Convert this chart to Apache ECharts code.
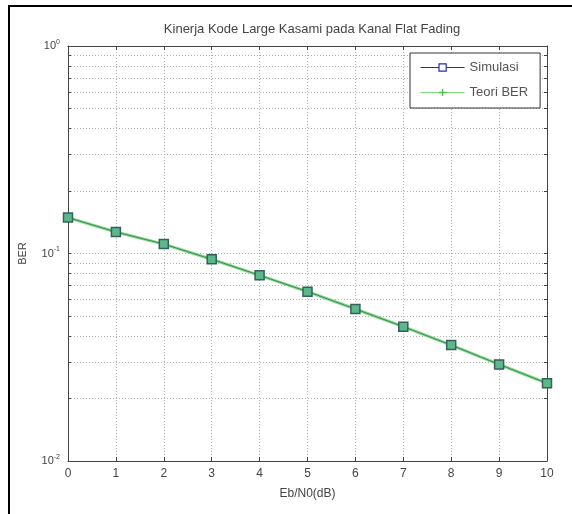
<!DOCTYPE html>
<html><head><meta charset="utf-8">
<script src="https://cdn.jsdelivr.net/npm/echarts@6/dist/echarts.min.js"></script>
<style>html,body{margin:0;padding:0;background:#fff}#c{width:572px;height:514px}</style>
</head><body><div id="c"></div>
<script>
var ebno = [0,1,2,3,4,5,6,7,8,9,10];
var simulasi = [0.149,0.127,0.111,0.0938,0.0785,0.0655,0.0540,0.0444,0.0362,0.0292,0.0237];
var teori    = [0.149,0.127,0.111,0.0938,0.0785,0.0655,0.0540,0.0444,0.0362,0.0292,0.0237];
var xTicks = [0,1,2,3,4,5,6,7,8,9,10];
var yMajor = [0.01,0.1,1];
var yTicks = [0.01,0.02,0.03,0.04,0.05,0.06,0.07,0.08,0.09,0.1,0.2,0.3,0.4,0.5,0.6,0.7,0.8,0.9,1];
var yLabelExp = {'0.01':'-2','0.1':'-1','1':'0'};

var font = 'Liberation Sans';
var chart = echarts.init(document.getElementById('c'));
var gridCol = '#b0b0b0';
function pairs(v){ return ebno.map(function(x,i){return [x,v[i]];}); }
var plus = 'path://M4,0h2v4h4v2h-4v4h-2v-4h-4v-2h4z';

chart.setOption({
  animation:false,
  backgroundColor:'#fff',
  textStyle:{fontFamily:font},
  title:{text:'Kinerja Kode Large Kasami pada Kanal Flat Fading',left:307,top:18,textAlign:'center',
    textStyle:{fontFamily:font,fontSize:13,fontWeight:'normal',color:'#444'}},
  graphic:[
    {type:'line',shape:{x1:8,y1:6,x2:572,y2:6},style:{stroke:'#000',lineWidth:2},silent:true},
    {type:'line',shape:{x1:9,y1:5,x2:9,y2:514},style:{stroke:'#000',lineWidth:2},silent:true}
  ],
  grid:{left:68,right:25,top:46,bottom:53,show:false},
  legend:{
    orient:'vertical',left:410,top:53,
    backgroundColor:'#fff',borderColor:'#333',borderWidth:1,
    padding:[8,12,9,10],itemGap:12,itemWidth:44,itemHeight:9,
    textStyle:{fontFamily:font,fontSize:13,color:'#555'},
    data:[
      {name:'Simulasi',itemStyle:{color:'#fff',borderColor:'#2a2ab8',borderWidth:1.2},lineStyle:{color:'#2a2ab8',width:1}},
      {name:'Teori BER',itemStyle:{color:'#4cc44c',borderWidth:0},lineStyle:{color:'#7ad87a',width:1.2}}
    ]
  },
  xAxis:[
    {type:'value',min:0,max:10,interval:1,position:'bottom',
     name:'Eb/N0(dB)',nameLocation:'middle',nameGap:27,
     nameTextStyle:{fontFamily:font,fontSize:12,color:'#444'},
     axisLine:{show:true,lineStyle:{color:'#444',width:1}},
     axisTick:{show:true,inside:true,length:4,lineStyle:{color:'#444'}},
     axisLabel:{fontFamily:font,fontSize:12,color:'#444',margin:7,customValues:xTicks},
     splitLine:{show:true,lineStyle:{color:gridCol,type:[1,2],width:1}}},
    {type:'value',min:0,max:10,interval:1,position:'top',
     axisLine:{show:true,onZero:false,lineStyle:{color:'#444',width:1}},
     axisTick:{show:true,inside:true,length:4,lineStyle:{color:'#444'}},
     axisLabel:{show:false},splitLine:{show:false}}
  ],
  yAxis:[
    {type:'log',logBase:10,min:0.01,max:1,position:'left',
     name:'BER',nameLocation:'middle',nameGap:40,nameRotate:90,
     nameTextStyle:{fontFamily:font,fontSize:11,color:'#444'},
     axisLine:{show:true,lineStyle:{color:'#444',width:1}},
     axisTick:{show:true,inside:true,length:3,customValues:yTicks,lineStyle:{color:'#444'}},
     axisLabel:{customValues:yMajor,margin:8,
       formatter:function(v){var k=String(+v.toPrecision(3));return '{b|10}{s|'+(yLabelExp[k]||'')+'}';},
       rich:{b:{fontFamily:font,fontSize:11,color:'#444'},s:{fontFamily:font,fontSize:7,color:'#444',padding:[0,0,8,0]}}},
     splitLine:{show:true,lineStyle:{color:gridCol,type:[1,2],width:1}}},
    {type:'log',logBase:10,min:0.01,max:1,position:'right',
     axisLine:{show:true,onZero:false,lineStyle:{color:'#444',width:1}},
     axisTick:{show:true,inside:true,length:3,customValues:yTicks,lineStyle:{color:'#444'}},
     axisLabel:{show:false},splitLine:{show:false}}
  ],
  series:[
    {name:'Simulasi',type:'line',xAxisIndex:0,yAxisIndex:0,data:pairs(simulasi),
     symbol:'rect',symbolSize:9,showAllSymbol:true,
     itemStyle:{color:'#5bb88a',borderColor:'#35605e',borderWidth:1.5},
     lineStyle:{color:'#3a8a5a',width:1},z:3},
    {name:'Teori BER',type:'line',xAxisIndex:0,yAxisIndex:0,data:pairs(teori),
     symbol:plus,symbolSize:8,itemStyle:{color:'#4cc44c'},
     lineStyle:{color:'#86da86',width:3},z:2}
  ]
});
</script></body></html>
